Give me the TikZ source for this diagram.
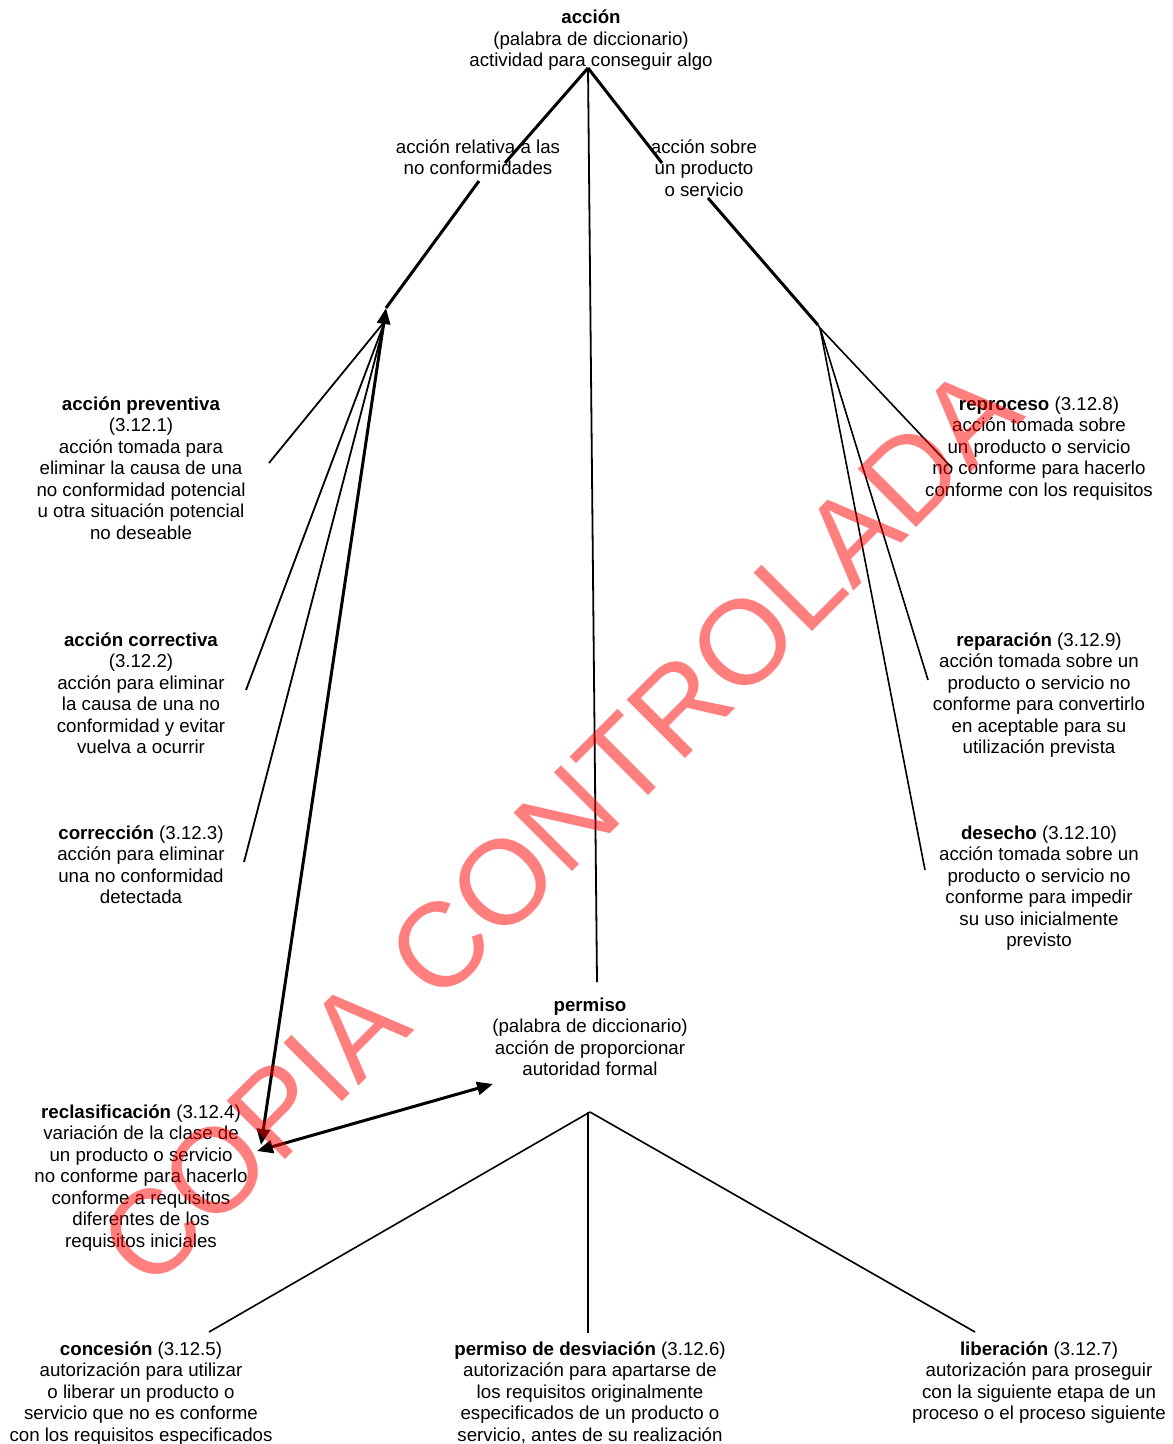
\documentclass[tikz,border=0pt]{standalone}
\usepackage{fontspec}
\setmainfont{Liberation Sans}
\usetikzlibrary{arrows.meta}
\begin{document}
\begin{tikzpicture}[x=1pt,y=-1pt,
  lbl/.style={align=center, anchor=north, inner sep=0pt, font=\fontsize{18.7}{21.5}\selectfont},
  thickln/.style={line width=3pt},
  thinln/.style={line width=1.8pt},
  fanln/.style={line width=1.6pt},
  dbl/.style={line width=3pt, {Triangle[length=16pt,width=13pt]}-{Triangle[length=16pt,width=13pt]}},
  wmark/.style={font=\fontsize{120}{120}\selectfont, text=red, text opacity=0.5, inner sep=0pt}]
\fill[white] (0,0) rectangle (1173,1444);
\useasboundingbox (0,0) rectangle (1173,1444);

% text nodes
\node[lbl] (top) at (591,10) {\textbf{acción}\\(palabra de diccionario)\\actividad para conseguir algo};
\node[lbl] (relL) at (478,139.5) {acción relativa a las\\no conformidades};
\node[lbl] (relR) at (704,139.5) {acción sobre\\un producto\\o servicio};
\node[lbl] (prev) at (141,396.5) {\textbf{acción preventiva}\\(3.12.1)\\acción tomada para\\eliminar la causa de una\\no conformidad potencial\\u otra situación potencial\\no deseable};
\node[lbl] (corr) at (141,632.5) {\textbf{acción correctiva}\\(3.12.2)\\acción para eliminar\\la causa de una no\\conformidad y evitar\\vuelva a ocurrir};
\node[lbl] (corrn) at (141,825.5) {\textbf{corrección} (3.12.3)\\acción para eliminar\\una no conformidad\\detectada};
\node[lbl] (recl) at (141,1104.5) {\textbf{reclasificación} (3.12.4)\\variación de la clase de\\un producto o servicio\\no conforme para hacerlo\\conforme a requisitos\\diferentes de los\\requisitos iniciales};
\node[lbl] (perm) at (590,997.5) {\textbf{permiso}\\(palabra de diccionario)\\acción de proporcionar\\autoridad formal};
\node[lbl] (conc) at (141,1341.5) {\textbf{concesión} (3.12.5)\\autorización para utilizar\\o liberar un producto o\\servicio que no es conforme\\con los requisitos especificados};
\node[lbl] (desv) at (590,1341.5) {\textbf{permiso de desviación} (3.12.6)\\autorización para apartarse de\\los requisitos originalmente\\especificados de un producto o\\servicio, antes de su realización};
\node[lbl] (lib) at (1039,1341.5) {\textbf{liberación} (3.12.7)\\autorización para proseguir\\con la siguiente etapa de un\\proceso o el proceso siguiente};
\node[lbl] (repr) at (1039,396.5) {\textbf{reproceso} (3.12.8)\\acción tomada sobre\\un producto o servicio\\no conforme para hacerlo\\conforme con los requisitos};
\node[lbl] (repa) at (1039,632.5) {\textbf{reparación} (3.12.9)\\acción tomada sobre un\\producto o servicio no\\conforme para convertirlo\\en aceptable para su\\utilización prevista};
\node[lbl] (dese) at (1039,825.5) {\textbf{desecho} (3.12.10)\\acción tomada sobre un\\producto o servicio no\\conforme para impedir\\su uso inicialmente\\previsto};

% junction and end coordinates
\coordinate (apex) at (588,68);
\coordinate (aL1) at (505,163);
\coordinate (aL2) at (479,181);
\coordinate (jL) at (386,308);
\coordinate (aR1) at (662,163);
\coordinate (aR2) at (708,198);
\coordinate (jR) at (818,325);
\coordinate (jR2) at (820,328);
\coordinate (jLb) at (385,321);
\coordinate (permTop) at (597,982);
\coordinate (eprev) at (269,463);
\coordinate (ecorr) at (246,690);
\coordinate (ecorrn) at (244,862);
\coordinate (erecl) at (261,1145);
\coordinate (erecl2) at (257,1151);
\coordinate (eperm) at (493,1084);
\coordinate (erepr) at (952,468);
\coordinate (erepa) at (928,680);
\coordinate (edese) at (925,870);
\coordinate (jP) at (590,1112);
\coordinate (jPv) at (588,1112);
\coordinate (econc) at (209,1332);
\coordinate (edesv) at (588,1333);
\coordinate (elib) at (975,1332);

% top tree
\draw[thickln] (apex) -- (aL1);
\draw[thickln] (aL2) -- (jL);
\draw[thickln] (apex) -- (aR1);
\draw[thickln] (aR2) -- (jR);
\draw[thinln] (apex) -- (permTop);

% left fan
\draw[thinln] (eprev) -- (jLb);
\draw[thinln] (ecorr) -- (jLb);
\draw[thinln] (ecorrn) -- (jLb);
\draw[dbl] (jL) -- (erecl);
\draw[dbl] (erecl2) -- (eperm);

% right fan
\draw[fanln] (jR) -- (jR2);
\draw[fanln] (jR2) -- (erepr);
\draw[fanln] (jR2) -- (erepa);
\draw[fanln] (jR2) -- (edese);

% bottom fan
\draw[fanln] (jP) -- (econc);
\draw[fanln] (jPv) -- (edesv);
\draw[fanln] (jP) -- (elib);

% watermark
\node[wmark, rotate=45] (wm) at (560,826) {COPIA CONTROLADA};
\end{tikzpicture}
\end{document}
